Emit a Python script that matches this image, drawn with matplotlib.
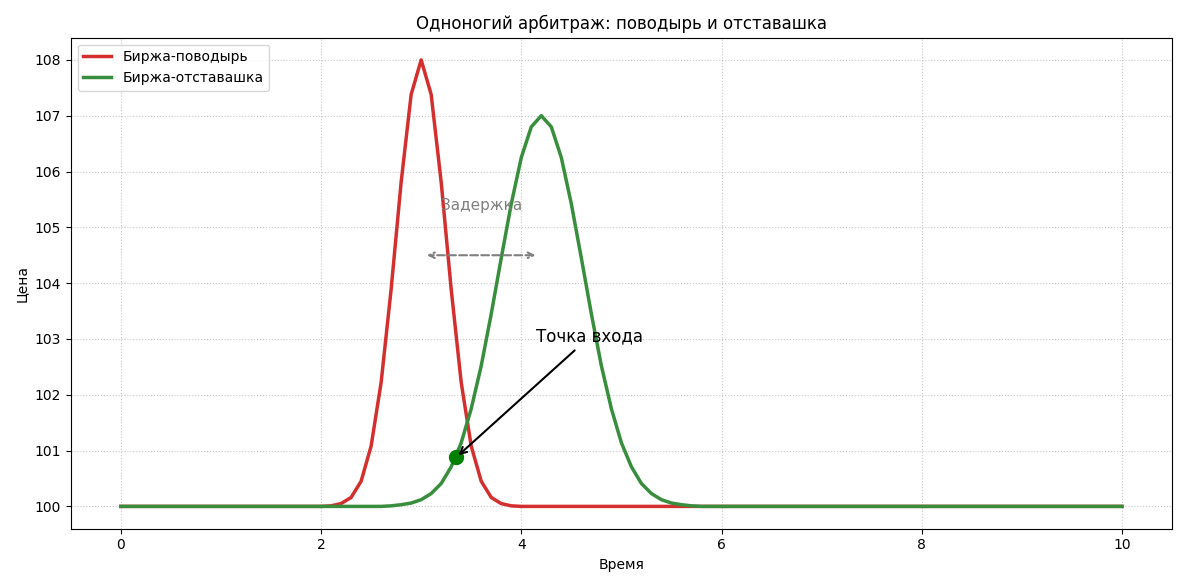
import numpy as np
import matplotlib
matplotlib.use("Agg")
import matplotlib.pyplot as plt

# time grid (step 0.1)
time = np.round(np.arange(0, 10.0001, 0.1), 1)

# values for the non-flat regions
leader_t = [2.0, 2.1, 2.2, 2.3, 2.4, 2.5, 2.6, 2.7, 2.8, 2.9, 3.0, 3.1, 3.2, 3.3, 3.4, 3.5,
            3.6, 3.7, 3.8, 3.9, 4.0, 4.1]
leader_v = [100.00, 100.01, 100.05, 100.16, 100.45, 101.08, 102.22, 103.89, 105.81, 107.38, 108.00,
            107.38, 105.81, 103.89, 102.22, 101.08, 100.45, 100.16, 100.05, 100.01, 100.00, 100.00]
lag_t = [2.6, 2.7, 2.8, 2.9, 3.0, 3.1, 3.2, 3.3, 3.4, 3.5, 3.6, 3.7, 3.8, 3.9, 4.0, 4.1, 4.2,
         4.3, 4.4, 4.5, 4.6, 4.7, 4.8, 4.9, 5.0, 5.1, 5.2, 5.3, 5.4, 5.5, 5.6, 5.7, 5.8]
lag_v = [100.00, 100.01, 100.03, 100.06, 100.12, 100.23, 100.41, 100.71, 101.14, 101.75, 102.52,
         103.45, 104.45, 105.42, 106.25, 106.80, 107.00, 106.80, 106.25, 105.42, 104.45, 103.45,
         102.52, 101.75, 101.14, 100.71, 100.41, 100.23, 100.12, 100.06, 100.03, 100.01, 100.00]
entry_t, entry_v = 3.35, 100.88
base = 100.0


def fill(ts, vs):
    d = dict(zip(ts, vs))
    return np.array([d.get(t, base) for t in time])

leader = fill(leader_t, leader_v)
lag = fill(lag_t, lag_v)

fig, ax = plt.subplots(figsize=(11.87, 5.87), dpi=100)
ax.plot(time, leader, color="#d32f2f", lw=2.5, label="Биржа-поводырь")
ax.plot(time, lag, color="#388e3c", lw=2.5, label="Биржа-отставашка")
ax.plot(entry_t, entry_v, "o", color="green", ms=10)
ax.annotate("Точка входа", xy=(entry_t, entry_v), xytext=(4.15, 102.95),
            fontsize=12, arrowprops=dict(arrowstyle="->", color="black", lw=1.5))
ax.annotate("", xy=(3.03, 104.5), xytext=(4.17, 104.5),
            arrowprops=dict(arrowstyle="<->", color="gray", lw=1.5, ls="--"))
ax.text(3.6, 105.4, "Задержка", color="gray", fontsize=11, ha="center", va="center")
ax.set_title("Одноногий арбитраж: поводырь и отставашка", fontsize=12)
ax.set_xlabel("Время", fontsize=10)
ax.set_ylabel("Цена", fontsize=10)
ax.tick_params(labelsize=10)
ax.grid(True, ls=":", alpha=0.7)
ax.legend(loc="upper left", fontsize=10)
fig.tight_layout()
fig.savefig("out.png")
